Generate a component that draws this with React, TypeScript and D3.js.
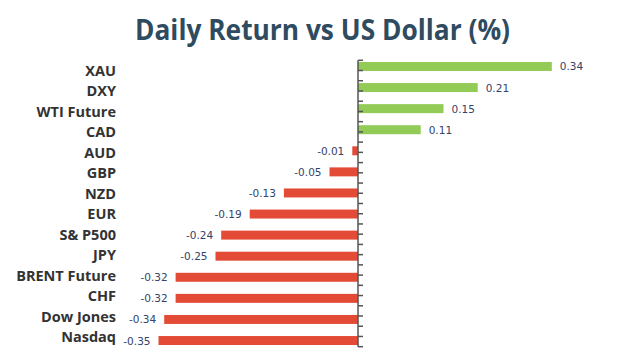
import React, { useEffect, useRef } from 'react';
import * as d3 from 'd3';

const categories = [
  'XAU', 'DXY', 'WTI Future', 'CAD', 'AUD', 'GBP', 'NZD',
  'EUR', 'S& P500', 'JPY', 'BRENT Future', 'CHF', 'Dow Jones', 'Nasdaq',
];
const returns = [
  0.34, 0.21, 0.15, 0.11, -0.01, -0.05, -0.13,
  -0.19, -0.24, -0.25, -0.32, -0.32, -0.34, -0.35,
];
const title = 'Daily Return vs US Dollar (%)';

const App = () => {
  const chartRef = useRef<HTMLDivElement>(null);

  useEffect(() => {
    const width = 644;
    const height = 364;
    const zeroX = 358;
    const top = 60.3;
    const bottom = 346.7;

    d3.select(chartRef.current).selectAll('*').remove();

    const svg = d3
      .select(chartRef.current)
      .append('svg')
      .attr('width', width)
      .attr('height', height)
      .style('display', 'block');

    svg.append('rect').attr('width', width).attr('height', height).attr('fill', '#fff');

    const xScale = d3
      .scaleLinear()
      .domain([-0.4, 0.4])
      .range([zeroX - 228, zeroX + 228]);

    // bars sit on a slightly wider grid than the labels
    const yBar = d3
      .scaleBand()
      .domain(categories)
      .range([top, bottom])
      .paddingInner(0.574)
      .paddingOuter(0.08);

    const yLabel = d3
      .scaleBand()
      .domain(categories)
      .range([top, bottom]);

    const data = categories.map((c, i) => ({ label: c, value: returns[i] }));

    svg.append('text')
      .attr('x', 322.5)
      .attr('y', 40)
      .attr('text-anchor', 'middle')
      .attr('font-family', 'Open Sans')
      .attr('font-weight', 'bold')
      .attr('font-size', 28)
      .attr('fill', '#2f4b5f')
      .attr('textLength', 375)
      .attr('lengthAdjust', 'spacingAndGlyphs')
      .text(title);

    // bars
    svg.selectAll('rect.bar')
      .data(data)
      .enter()
      .append('rect')
      .attr('class', 'bar')
      .attr('x', (d) => xScale(Math.min(0, d.value)))
      .attr('y', (d) => yBar(d.label)!)
      .attr('width', (d) => Math.abs(xScale(d.value) - xScale(0)))
      .attr('height', yBar.bandwidth())
      .attr('fill', (d) => (d.value >= 0 ? '#92cb55' : '#e34b37'));

    // value labels
    svg.selectAll('text.val')
      .data(data)
      .enter()
      .append('text')
      .attr('class', 'val')
      .attr('x', (d) => xScale(d.value) + (d.value >= 0 ? 8 : -8))
      .attr('y', (d) => yBar(d.label)! + yBar.bandwidth() / 2 + 4)
      .attr('text-anchor', (d) => (d.value >= 0 ? 'start' : 'end'))
      .attr('font-family', 'DejaVu Sans')
      .attr('font-size', 10.5)
      .attr('fill', '#34436a')
      .text((d) => d.value.toFixed(2));

    // category labels
    svg.selectAll('text.cat')
      .data(data)
      .enter()
      .append('text')
      .attr('class', 'cat')
      .attr('x', 116)
      .attr('y', (d) => yLabel(d.label)! + yLabel.bandwidth() / 2 + 5.5)
      .attr('text-anchor', 'end')
      .attr('font-family', 'Open Sans')
      .attr('font-weight', 'bold')
      .attr('font-size', 14.5)
      .attr('fill', '#333')
      .text((d) => d.label);

    // axis at zero, ticks every half band
    const half = yLabel.step() / 2;
    const tickYs = d3.range(categories.length * 2 + 1).map((i) => top + i * half);
    svg.append('line')
      .attr('x1', xScale(0))
      .attr('x2', xScale(0))
      .attr('y1', top)
      .attr('y2', bottom)
      .attr('stroke', '#555')
      .attr('stroke-width', 1.5);
    svg.selectAll('line.tick')
      .data(tickYs)
      .enter()
      .append('line')
      .attr('class', 'tick')
      .attr('x1', xScale(0))
      .attr('x2', xScale(0) + 5)
      .attr('y1', (d) => d)
      .attr('y2', (d) => d)
      .attr('stroke', '#555')
      .attr('stroke-width', 1.5);
  }, []);

  return <div ref={chartRef} style={{ margin: -8 }} />;
};

export default App;
